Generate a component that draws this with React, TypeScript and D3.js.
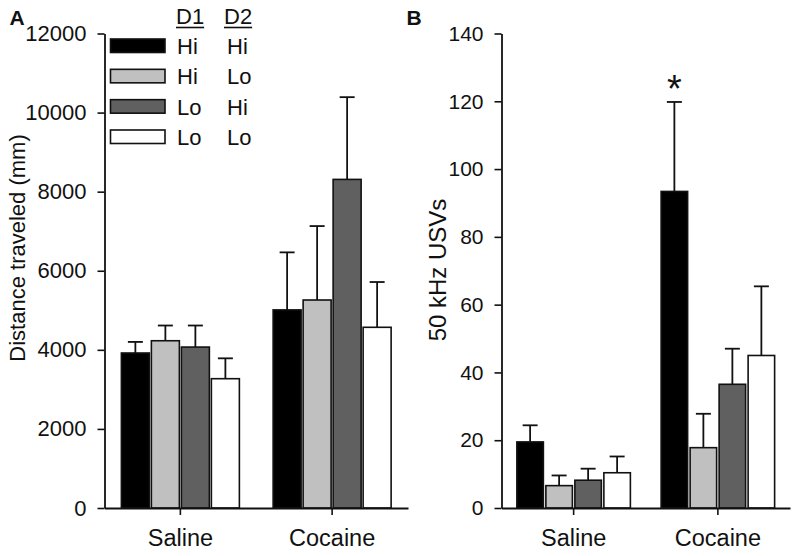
import React, { useEffect, useRef } from 'react';
import * as d3 from 'd3';

const categories = ['Saline', 'Cocaine'];
const legendD1 = ['Hi', 'Hi', 'Lo', 'Lo'];
const legendD2 = ['Hi', 'Lo', 'Hi', 'Lo'];
const seriesColors = ['#000000', '#c0c0c0', '#606060', '#ffffff'];

// panel A: distance traveled (mm), mean and SEM per group
const distanceSaline = [3920, 4230, 4070, 3270];
const distanceSalineSem = [280, 385, 545, 515];
const distanceCocaine = [5010, 5260, 8310, 4570];
const distanceCocaineSem = [1455, 1870, 2080, 1145];
const distanceTicks = [0, 2000, 4000, 6000, 8000, 10000, 12000];

// panel B: 50 kHz USVs
const usvSaline = [19.5, 6.6, 8.2, 10.4];
const usvSalineSem = [4.9, 3.0, 3.4, 4.8];
const usvCocaine = [93.4, 17.8, 36.5, 45.0];
const usvCocaineSem = [26.4, 10.0, 10.5, 20.4];
const usvTicks = [0, 20, 40, 60, 80, 100, 120, 140];

const FONT = '"Liberation Sans", Arial, sans-serif';

type PanelOpts = {
    label: string;
    title: string;
    titleSize: number;
    titleX: number;
    titleY: number;
    tickSize: number;
    x0: number;
    x1: number;
    yMax: number;
    ticks: number[];
    means: number[][];
    sems: number[][];
    groupWidth: number;
    barPad: number;
    starOn?: [number, number];
};

function drawPanel(svg: d3.Selection<SVGSVGElement, unknown, null, undefined>, o: PanelOpts) {
    const yTop = 33.5, yBottom = 508;
    const g = svg.append('g');

    const x = d3.scaleBand<string>().domain(categories).range([o.x0, o.x1]).padding(0);
    const y = d3.scaleLinear().domain([0, o.yMax]).range([yBottom, yTop]);
    const inner = d3.scaleBand<number>()
        .domain(d3.range(seriesColors.length))
        .range([-o.groupWidth / 2, o.groupWidth / 2])
        .paddingInner(o.barPad);

    categories.forEach((cat, ci) => {
        const cx = (x(cat) as number) + x.bandwidth() / 2;
        const grp = g.append('g').attr('transform', `translate(${cx},0)`);
        o.means[ci].forEach((m, si) => {
            const bx = inner(si) as number;
            const top = y(m + o.sems[ci][si]);
            const mid = bx + inner.bandwidth() / 2;
            grp.append('line')
                .attr('x1', mid).attr('x2', mid)
                .attr('y1', y(m)).attr('y2', top)
                .attr('stroke', '#111').attr('stroke-width', 1.8);
            grp.append('line')
                .attr('x1', mid - 7.5).attr('x2', mid + 7.5)
                .attr('y1', top).attr('y2', top)
                .attr('stroke', '#111').attr('stroke-width', 1.8);
            grp.append('rect')
                .attr('x', bx)
                .attr('y', y(m))
                .attr('width', inner.bandwidth())
                .attr('height', yBottom - y(m))
                .attr('fill', seriesColors[si])
                .attr('stroke', '#111')
                .attr('stroke-width', 1.6);
            if (o.starOn && o.starOn[0] === ci && o.starOn[1] === si) {
                grp.append('text')
                    .attr('x', mid).attr('y', top)
                    .attr('text-anchor', 'middle')
                    .attr('font-family', FONT)
                    .attr('font-size', 38)
                    .attr('fill', '#111')
                    .text('*');
            }
        });
    });

    const yAxis = g.append('g')
        .attr('transform', `translate(${o.x0},0)`)
        .call(d3.axisLeft(y).tickValues(o.ticks).tickSize(7).tickSizeOuter(0).tickPadding(11).tickFormat(d3.format('d')));
    yAxis.select('.domain').attr('stroke', '#111').attr('stroke-width', 1.8);
    yAxis.selectAll('.tick line').attr('stroke', '#111').attr('stroke-width', 1.6);
    yAxis.selectAll('text').attr('font-family', FONT).attr('font-size', o.tickSize).attr('fill', '#111');

    const xAxis = g.append('g')
        .attr('transform', `translate(0,${yBottom})`)
        .call(d3.axisBottom(x).tickSize(7).tickSizeOuter(0).tickPadding(14));
    xAxis.select('.domain').attr('stroke', '#111').attr('stroke-width', 1.8);
    xAxis.selectAll('.tick line').attr('stroke', '#111').attr('stroke-width', 1.6);
    xAxis.selectAll('text').attr('font-family', FONT).attr('font-size', 23.5).attr('fill', '#111');

    g.append('text')
        .attr('transform', `translate(${o.titleX},${o.titleY}) rotate(-90)`)
        .attr('text-anchor', 'middle')
        .attr('font-family', FONT)
        .attr('font-size', o.titleSize)
        .attr('fill', '#111')
        .text(o.title);

    g.append('text')
        .attr('x', o.x0 - 95).attr('y', 24.5)
        .attr('font-family', FONT)
        .attr('font-weight', 'bold')
        .attr('font-size', 21)
        .attr('fill', '#111')
        .text(o.label);
}

const App: React.FC = () => {
    const ref = useRef<SVGSVGElement>(null);

    useEffect(() => {
        const svg = d3.select(ref.current as SVGSVGElement);
        svg.selectAll('*').remove();

        drawPanel(svg, {
            label: 'A', title: 'Distance traveled (mm)', titleSize: 22, titleX: 25, titleY: 248,
            tickSize: 22, x0: 104.5, x1: 408, yMax: 12000, ticks: distanceTicks,
            means: [distanceSaline, distanceCocaine],
            sems: [distanceSalineSem, distanceCocaineSem],
            groupWidth: 118, barPad: 0.067,
        });
        drawPanel(svg, {
            label: 'B', title: '50 kHz USVs', titleSize: 24, titleX: 446, titleY: 270,
            tickSize: 21, x0: 501.5, x1: 790, yMax: 140, ticks: usvTicks,
            means: [usvSaline, usvCocaine],
            sems: [usvSalineSem, usvCocaineSem],
            groupWidth: 113.5, barPad: 0.086, starOn: [1, 0],
        });

        // legend
        const row = d3.scaleLinear().domain([0, 3]).range([54, 145]);
        const lg = svg.append('g');
        seriesColors.forEach((c, i) => {
            lg.append('rect')
                .attr('x', 110.5).attr('y', row(i) - 15)
                .attr('width', 54.5).attr('height', 13.5)
                .attr('fill', c).attr('stroke', '#111').attr('stroke-width', 1.6);
            lg.append('text')
                .attr('x', 177).attr('y', row(i))
                .attr('font-family', FONT).attr('font-size', 22).attr('fill', '#111')
                .text(legendD1[i]);
            lg.append('text')
                .attr('x', 227).attr('y', row(i))
                .attr('font-family', FONT).attr('font-size', 22).attr('fill', '#111')
                .text(legendD2[i]);
        });
        [['D1', 176], ['D2', 224]].forEach(([t, xx]) => {
            const txt = lg.append('text')
                .attr('x', xx).attr('y', 24)
                .attr('font-family', FONT).attr('font-size', 22).attr('fill', '#111')
                .text(t as string);
            const w = (txt.node() as SVGTextElement).getComputedTextLength();
            lg.append('line')
                .attr('x1', xx).attr('x2', (xx as number) + w)
                .attr('y1', 27.5).attr('y2', 27.5)
                .attr('stroke', '#111').attr('stroke-width', 1.6);
        });
    }, []);

    return (
        <svg ref={ref} width={792} height={556}
            style={{ position: 'absolute', left: 0, top: 0, background: '#fff' }} />
    );
};

export default App;
